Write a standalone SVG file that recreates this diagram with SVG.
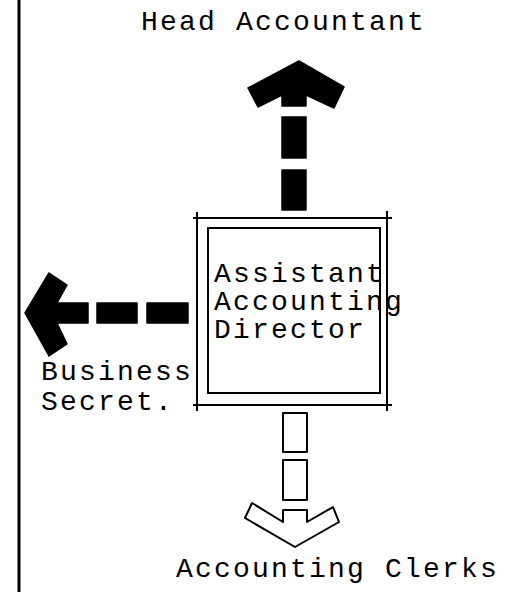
<svg xmlns="http://www.w3.org/2000/svg" width="507" height="592" viewBox="0 0 507 592">
<style>
.t{font-family:"Liberation Mono","DejaVu Sans Mono",monospace;font-size:28px;letter-spacing:2.2px;fill:#000}
.solid{fill:#000;stroke:#000;stroke-width:1.5;stroke-linejoin:round}
.open{fill:#fff;stroke:#000;stroke-width:2;stroke-linejoin:round}
.ln{stroke:#000;stroke-width:2;fill:none}
</style>
<rect width="507" height="592" fill="#fff"/>
<line x1="19" y1="0" x2="19" y2="592" stroke="#000" stroke-width="3"/>
<g id="head-accountant"><text class="t" x="141" y="30">Head Accountant</text></g>
<g id="assistant-director">
<rect x="197" y="218" width="190" height="187" class="ln"/>
<rect x="208" y="228" width="172" height="165" class="ln"/>
<path class="ln" d="M197 212V222M193 218H202M387 211V221M383 218H392M197 401V411M193 405H202M387 401V411M383 405H392" stroke-width="1.5"/>
<text class="t" x="214" y="282">Assistant</text>
<text class="t" x="214" y="310">Accounting</text>
<text class="t" x="214" y="338">Director</text>
</g>
<g id="business-secret"><text class="t" x="41" y="380">Business</text><text class="t" x="41" y="410">Secret.</text></g>
<g id="accounting-clerks"><text class="t" x="176" y="577">Accounting Clerks</text></g>
<g id="connectors">
<path class="solid" d="M299 61L344 87L334 108L306 95V106H282V95L258 107L248 88Z"/>
<rect class="solid" x="282" y="117" width="24" height="41"/>
<rect class="solid" x="282" y="170" width="24" height="40"/>
<path class="solid" d="M25 313L49 273L67 285L57 303H88V323H57L67 344L49 356Z"/>
<rect class="solid" x="97" y="303" width="40" height="20"/>
<rect class="solid" x="147" y="303" width="41" height="20"/>
<rect class="open" x="283" y="413" width="24" height="39"/>
<rect class="open" x="283" y="460" width="24" height="40"/>
<path class="open" d="M252 503L283 522V510H307V522L333 507L339 522L295 547L245 518Z"/>
</g>
</svg>
